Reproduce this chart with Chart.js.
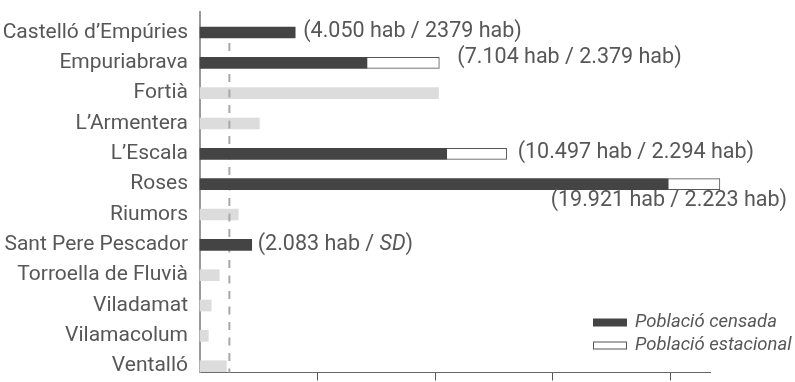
<!DOCTYPE html>
<html>
<head>
<meta charset="utf-8">
<script src="https://cdn.jsdelivr.net/npm/chart.js@4.4.1/dist/chart.umd.min.js"></script>
<style>
    html, body { margin: 0; padding: 0; background: #fff; }
    #wrap { width: 795px; height: 382px; }
</style>
</head>
<body>
<div id="wrap"><canvas id="poblacio-chart"></canvas></div>
<script>
// Dades llegides del gràfic
const municipis = [
    'Castelló d’Empúries', 'Empuriabrava', 'Fortià', 'L’Armentera', 'L’Escala', 'Roses',
    'Riumors', 'Sant Pere Pescador', 'Torroella de Fluvià', 'Viladamat', 'Vilamacolum', 'Ventalló'
];
const censada = [4050, 7104, null, null, 10497, 19921, null, 2200, null, null, null, null];
const estacional = [null, 3080, null, null, 2550, 2200, null, null, null, null, null, null];
const altres = [null, null, 10150, 2525, null, null, 1630, null, 822, 480, 355, 1120];
// text de cada etiqueta; entre asteriscs va en cursiva
const etiquetes = [
    '(4.050 hab / 2379 hab)', '(7.104 hab / 2.379 hab)', null, null, '(10.497 hab / 2.294 hab)',
    '(19.921 hab / 2.223 hab)', null, '(2.083 hab / *SD*)', null, null, null, null
];
const llindar = 1250;
const xTicks = [5000, 10000, 15000, 20000];
const xMax = 21700;

// on va cada etiqueta respecte al final de la barra
const posEtiquetes = [
    { dx: 8, dy: -1 }, { dx: 18, dy: -5 }, null, null, { dx: 11, dy: -1 },
    { dreta: 8, dy: 16 }, null, { dx: 6, dy: 0 }, null, null, null, null
];

const textColor = '#575757';
const fontFamily = 'Roboto';
Chart.defaults.font.family = fontFamily;
Chart.defaults.color = textColor;

const toPoints = arr => arr.map((v, i) => ({ x: v, y: i }));

// línia discontínua: per sobre de les barres grises i per sota de les fosques
const llindarPlugin = {
    id: 'llindar',
    afterDatasetDraw(chart, args) {
        if (args.index !== 2) return;
        const { ctx, chartArea, scales: { x, y } } = chart;
        const px = x.getPixelForValue(llindar);
        ctx.save();
        ctx.strokeStyle = '#a8a8a8';
        ctx.lineWidth = 2;
        ctx.setLineDash([8, 7.5]);
        ctx.beginPath();
        ctx.moveTo(px, y.getPixelForValue(0.35));
        ctx.lineTo(px, chartArea.bottom);
        ctx.stroke();
        ctx.restore();
    }
};

const etiquetesPlugin = {
    id: 'etiquetes',
    afterDatasetsDraw(chart) {
        const { ctx, scales: { x, y } } = chart;
        const fontFor = italic => (italic ? 'italic ' : '') + '21.5px ' + fontFamily;
        ctx.save();
        ctx.fillStyle = textColor;
        ctx.textBaseline = 'middle';
        ctx.textAlign = 'left';
        etiquetes.forEach((txt, i) => {
            if (!txt) return;
            const pos = posEtiquetes[i];
            const parts = txt.split('*');
            let w = 0;
            parts.forEach((s, k) => { ctx.font = fontFor(k % 2); w += ctx.measureText(s).width; });
            const total = (censada[i] || 0) + (estacional[i] || 0);
            let xp = pos.dreta !== undefined ? chart.width - pos.dreta - w : x.getPixelForValue(total) + pos.dx;
            const yp = y.getPixelForValue(i) + pos.dy;
            parts.forEach((s, k) => {
                ctx.font = fontFor(k % 2);
                ctx.fillText(s, xp, yp);
                xp += ctx.measureText(s).width;
            });
        });
        ctx.restore();
    }
};

const llegendaPlugin = {
    id: 'llegenda',
    afterDraw(chart) {
        const { ctx, chartArea } = chart;
        const left = chart.width - 202;
        const rows = [chartArea.bottom - 50, chartArea.bottom - 27];
        ctx.save();
        ctx.font = 'italic 18.5px ' + fontFamily;
        ctx.textBaseline = 'middle';
        [0, 1].forEach((di, r) => {
            const ds = chart.data.datasets[di];
            const yc = rows[r];
            ctx.fillStyle = ds.backgroundColor;
            ctx.fillRect(left, yc - 4, 34, 8);
            if (ds.borderWidth) {
                ctx.strokeStyle = ds.borderColor;
                ctx.lineWidth = 1;
                ctx.strokeRect(left + 0.5, yc - 3.5, 33, 7);
            }
            ctx.fillStyle = textColor;
            ctx.fillText(ds.label, left + 42, yc);
        });
        ctx.restore();
    }
};

const ctx = document.getElementById('poblacio-chart').getContext('2d');
const chart = new Chart(ctx, {
    type: 'bar',
    data: {
        datasets: [
            {
                label: 'Població censada',
                data: toPoints(censada),
                backgroundColor: '#444444',
                borderWidth: 0,
                barThickness: 11,
                clip: false
            },
            {
                label: 'Població estacional',
                data: toPoints(estacional),
                backgroundColor: '#ffffff',
                borderColor: '#555555',
                borderWidth: 1,
                barThickness: 11,
                clip: false
            },
            {
                label: 'Altres',
                data: toPoints(altres),
                backgroundColor: '#dcdcdc',
                borderWidth: 0,
                barThickness: 11,
                clip: false
            }
        ]
    },
    options: {
        indexAxis: 'y',
        responsive: true,
        maintainAspectRatio: false,
        animation: false,
        layout: { padding: { top: 12, right: 85, left: 0, bottom: 0 } },
        plugins: {
            legend: { display: false },
            tooltip: { enabled: false }
        },
        scales: {
            x: {
                type: 'linear',
                stacked: true,
                min: 0,
                max: xMax,
                offset: false,
                grid: { drawOnChartArea: false, drawTicks: true, tickLength: 8, color: '#555', lineWidth: 1, offset: false },
                border: { color: '#666', width: 1 },
                ticks: { display: false },
                afterBuildTicks: scale => { scale.ticks = xTicks.map(v => ({ value: v })); },
                afterFit: scale => {
                    scale.height = 9.5;
                    scale.paddingLeft = 0;
                    scale.paddingRight = 0;
                }
            },
            y: {
                type: 'linear',
                stacked: true,
                reverse: true,
                offset: false,
                min: -0.675,
                max: 11.207,
                grid: { drawOnChartArea: false, drawTicks: false, offset: false },
                border: { color: '#9a9a9a', width: 2 },
                ticks: {
                    padding: 12,
                    font: { size: 21 },
                    color: textColor,
                    callback: v => municipis[v]
                },
                afterBuildTicks: scale => { scale.ticks = municipis.map((m, i) => ({ value: i })); },
                afterFit: scale => {
                    scale.width = 200;
                    scale.paddingTop = 0;
                    scale.paddingBottom = 0;
                }
            }
        }
    },
    plugins: [llindarPlugin, etiquetesPlugin, llegendaPlugin]
});
</script>
</body>
</html>
